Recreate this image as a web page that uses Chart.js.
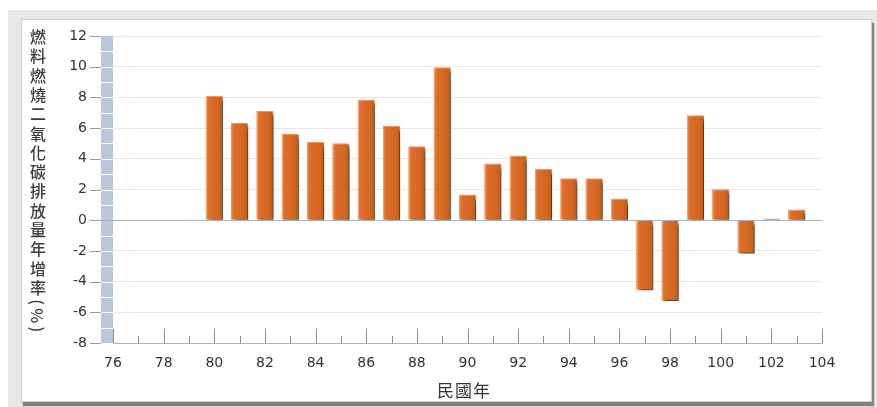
<!DOCTYPE html>
<html>
<head>
<meta charset="utf-8">
<script src="https://cdn.jsdelivr.net/npm/chart.js@4"></script>
<style>
  html, body { margin: 0; padding: 0; background: #fff; width: 877px; height: 407px; overflow: hidden; }
  #backdrop { position: absolute; left: 8px; top: 10px; width: 869px; height: 397px; background: #e7e7e7; }
  #panel { position: absolute; left: 21px; top: 19px; width: 849px; height: 381px; background: #fff;
           border: 1px solid #cfcfcf; box-shadow: 2px 4px 1px #808080; }
  #wrap { position: absolute; left: 0; top: 0; width: 877px; height: 407px; }
  #ytitle { position: absolute; left: 30px; top: 29px; writing-mode: vertical-rl; text-orientation: mixed;
            font-family: "Noto Sans CJK TC", "Noto Sans CJK SC", sans-serif; font-size: 16px; line-height: 16px;
            letter-spacing: 3.3px; color: #3c3c3c; font-weight: 500; }
  #xtitle { position: absolute; left: 400px; width: 128px; top: 377px; text-align: center;
            font-family: "Noto Sans CJK TC", "Noto Sans CJK SC", sans-serif; font-size: 17px; letter-spacing: 1px; color: #333; }
</style>
</head>
<body>
<div id="backdrop"></div>
<div id="panel"></div>
<div id="wrap"><canvas id="chart" width="877" height="407"></canvas></div>
<div id="ytitle">燃料燃燒二氧化碳排放量年增率(%)</div>
<div id="xtitle">民國年</div>
<script>
// 民國年
const years = [80, 81, 82, 83, 84, 85, 86, 87, 88, 89, 90, 91, 92, 93, 94, 95, 96, 97, 98, 99, 100, 101, 102, 103];
// 燃料燃燒二氧化碳排放量年增率 (%)
const growthRates = [8.10, 6.34, 7.12, 5.62, 5.10, 5.02, 7.86, 6.14, 4.82, 9.97, 1.67, 3.69, 4.21, 3.34, 2.74, 2.74, 1.41, -4.56, -5.26, 6.84, 2.02, -2.17, 0.11, 0.70];
// axis tick labels
const xTickLabels = [76, 78, 80, 82, 84, 86, 88, 90, 92, 94, 96, 98, 100, 102, 104];
const yTickLabels = [-8, -6, -4, -2, 0, 2, 4, 6, 8, 10, 12];

const points = years.map((y, i) => ({ x: y, y: growthRates[i] }));
const BAR_PCT = 0.68;

// light-blue wall on the left of the plot, tick marks on both axes
const axisDecor = {
  id: 'axisDecor',
  beforeDatasetsDraw(chart) {
    const { ctx, chartArea, scales } = chart;
    const ys = scales.y, xs = scales.x;
    ctx.save();
    // wall
    const wl = chartArea.left - 12, wr = chartArea.left;
    ctx.fillStyle = '#b8c7d9';
    ctx.fillRect(wl, chartArea.top, wr - wl, chartArea.bottom - chartArea.top);
    ctx.strokeStyle = '#ffffff';
    ctx.lineWidth = 1;
    for (let v = ys.min + 1; v < ys.max; v++) {
      const py = Math.round(ys.getPixelForValue(v)) + 0.5;
      ctx.beginPath(); ctx.moveTo(wl, py); ctx.lineTo(wr, py); ctx.stroke();
    }
    // y tick marks
    ctx.strokeStyle = '#9a9a9a';
    yTickLabels.forEach(v => {
      const py = Math.round(ys.getPixelForValue(v)) + 0.5;
      ctx.beginPath(); ctx.moveTo(chartArea.left - 23, py); ctx.lineTo(wl, py); ctx.stroke();
    });
    // zero line across the wall
    const pz = Math.round(ys.getPixelForValue(0)) + 0.5;
    ctx.strokeStyle = '#a7b1bb';
    ctx.beginPath(); ctx.moveTo(wl, pz); ctx.lineTo(wr, pz); ctx.stroke();
    // x tick marks, pointing up from the base line
    ctx.strokeStyle = '#8c8c8c';
    for (let v = xs.min; v <= xs.max; v++) {
      const px = Math.round(xs.getPixelForValue(v)) + 0.5;
      const h = xTickLabels.includes(v) ? 14 : 7;
      ctx.beginPath(); ctx.moveTo(px, chartArea.bottom); ctx.lineTo(px, chartArea.bottom - h); ctx.stroke();
    }
    ctx.restore();
  }
};

// drop shadow behind the bars
const barShadow = {
  id: 'barShadow',
  beforeDatasetsDraw(chart) {
    const ctx = chart.ctx;
    ctx.save();
    ctx.shadowColor = 'rgba(30,30,30,0.75)';
    ctx.shadowBlur = 3;
    ctx.shadowOffsetX = 3;
    ctx.shadowOffsetY = 3;
  },
  afterDatasetsDraw(chart) {
    chart.ctx.restore();
  }
};

function barFill(c) {
  const chart = c.chart;
  if (!chart.chartArea || !c.raw) return '#d66a28';
  const xs = chart.scales.x;
  const cx = xs.getPixelForValue(c.raw.x);
  const half = xs.getPixelForValue(c.raw.x + BAR_PCT / 2) - cx;
  const g = chart.ctx.createLinearGradient(cx - half, 0, cx + half, 0);
  g.addColorStop(0, '#ee8a45');
  g.addColorStop(0.2, '#dc6d2b');
  g.addColorStop(0.75, '#d3661f');
  g.addColorStop(1, '#bb5819');
  return g;
}

const tickFont = { family: '"DejaVu Sans", Verdana, sans-serif', size: 14 };

new Chart(document.getElementById('chart'), {
  type: 'bar',
  data: {
    datasets: [{
      data: points,
      backgroundColor: barFill,
      borderColor: '#f29252',
      borderWidth: 1,
      barPercentage: BAR_PCT,
      categoryPercentage: 1
    }]
  },
  options: {
    responsive: false,
    animation: false,
    events: [],
    layout: { padding: { top: 36, right: 55, left: 0, bottom: 0 } },
    plugins: { legend: { display: false }, tooltip: { enabled: false } },
    scales: {
      x: {
        type: 'linear',
        min: 76, max: 104,
        offset: false,
        afterFit(s) { s.height = 64; },
        grid: { display: false, drawTicks: false, offset: false },
        border: { display: true, color: '#aab3bc', width: 1 },
        ticks: {
          stepSize: 1, autoSkip: false, maxRotation: 0, padding: 12,
          color: '#333', font: tickFont,
          callback: v => xTickLabels.includes(v) ? String(v) : ''
        }
      },
      y: {
        min: -8, max: 12,
        afterFit(s) { s.width = 113; },
        grid: {
          drawTicks: false,
          color: c => c.tick.value === 0 ? '#a7b1bb' : '#e6e6e6',
          lineWidth: 1
        },
        border: { display: false },
        ticks: {
          stepSize: 2, padding: 26, color: '#333', font: tickFont,
          callback: v => yTickLabels.includes(v) ? String(v) : ''
        }
      }
    }
  },
  plugins: [axisDecor, barShadow]
});
</script>
</body>
</html>
